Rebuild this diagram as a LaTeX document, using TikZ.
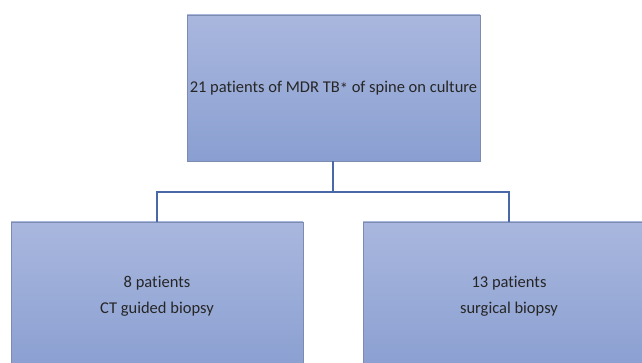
\documentclass[tikz,border=0pt]{standalone}
\usepackage{fontspec}
\setmainfont[Ligatures=NoCommon]{Carlito}
\definecolor{boxtop}{HTML}{A9B7DE}
\definecolor{boxbot}{HTML}{8A9FD1}
\definecolor{boxedge}{HTML}{7D8BB0}
\definecolor{linkc}{HTML}{4A67A8}
\tikzset{
  flowbox/.style={rectangle, top color=boxtop, bottom color=boxbot, draw=boxedge, line width=0.8pt,
    inner sep=0pt, align=center, font=\fontsize{16.5}{26}\selectfont, text=black!85},
  link/.style={draw=linkc, line width=1.2pt}
}
\begin{document}
\begin{tikzpicture}[x=1pt,y=-1pt]
\useasboundingbox (0,0) rectangle (642,363);
\clip (0,0) rectangle (642,363);
\node[flowbox, minimum width=293pt, minimum height=146pt] (top) at (333.5,88) {21 patients of MDR TB\raisebox{-0.25ex}{*} of spine on culture};
\node[flowbox, minimum width=292pt, minimum height=148pt] (left) at (157,296) {8 patients\\CT guided biopsy};
\node[flowbox, minimum width=292pt, minimum height=148pt] (right) at (509,296) {13 patients\\surgical biopsy};
\coordinate (mid) at (333,192);
\draw[link] (top.south -| mid) -- (mid);
\draw[link] (mid) -| (left.north);
\draw[link] (mid) -| (right.north);
\end{tikzpicture}
\end{document}
